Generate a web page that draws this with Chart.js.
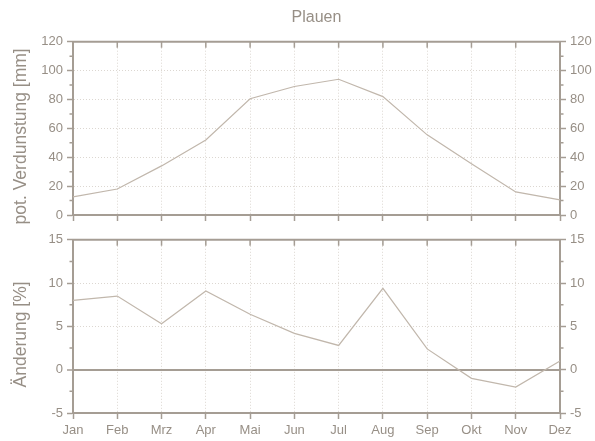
<!DOCTYPE html>
<html>
<head>
<meta charset="utf-8">
<script src="https://cdn.jsdelivr.net/npm/chart.js@4"></script>
<style>
  body { margin: 0; background: #fff; }
  canvas { display: block; }
</style>
</head>
<body>
<canvas id="topChart" width="595" height="228"></canvas>
<canvas id="bottomChart" width="595" height="213"></canvas>
<script>
// Data
const months = ["Jan", "Feb", "Mrz", "Apr", "Mai", "Jun", "Jul", "Aug", "Sep", "Okt", "Nov", "Dez"];
const evaporation = [12.5, 18, 34, 52, 80.5, 89, 94, 82, 55.5, 35.5, 16, 10.5];
const change = [8.0, 8.5, 5.3, 9.1, 6.4, 4.2, 2.8, 9.4, 2.4, -1.0, -2.0, 1.0];

const evapTicks = [0, 20, 40, 60, 80, 100, 120];
const evapMinor = [10, 30, 50, 70, 90, 110];
const changeTicks = [-5, 0, 5, 10, 15];
const changeMinor = [-2.5, 2.5, 7.5, 12.5];

// Colours
const AXIS = "#a59d94";
const TEXT = "#978f86";
const GRID = "#dcd7d1";
const LINE = "#c1b7ac";

Chart.defaults.font.family = '"Liberation Sans", Arial, sans-serif';
Chart.defaults.color = TEXT;

// top border with inward ticks, minor ticks on both y axes, y title
const frame = {
    id: "frame",
    afterDraw(chart, args, opts) {
        const { ctx, chartArea: a, scales } = chart;
        ctx.save();
        ctx.strokeStyle = AXIS;
        ctx.lineWidth = 2;
        ctx.beginPath();
        ctx.moveTo(a.left - 1, a.top);
        ctx.lineTo(a.right + 1, a.top);
        ctx.stroke();

        ctx.lineWidth = 1.5;
        ctx.beginPath();
        scales.x.ticks.forEach((t, i) => {
            const x = scales.x.getPixelForTick(i);
            ctx.moveTo(x, a.top);
            ctx.lineTo(x, a.top + 6);
        });
        opts.minor.forEach((v) => {
            const y = scales.y.getPixelForValue(v);
            ctx.moveTo(a.left - 3.5, y);
            ctx.lineTo(a.left, y);
            ctx.moveTo(a.right, y);
            ctx.lineTo(a.right + 3.5, y);
        });
        ctx.stroke();

        // axis title, sitting a little below the middle like the original
        const cy = (a.top + a.bottom) / 2 + opts.titleShift;
        ctx.translate(21.5, cy);
        ctx.rotate(-Math.PI / 2);
        ctx.fillStyle = TEXT;
        ctx.font = '17.5px "Liberation Sans", Arial, sans-serif';
        ctx.textAlign = "center";
        ctx.textBaseline = "middle";
        ctx.fillText(opts.title, 0, 0);
        ctx.restore();
    },
};

function isZero(c, zeroLine) {
    return zeroLine && c.tick && c.tick.value === 0;
}

function panelOptions(cfg) {
    return {
        responsive: false,
        animation: false,
        layout: { padding: { top: cfg.padTop, left: 0, right: 0, bottom: 0 } },
        plugins: {
            legend: { display: false },
            tooltip: { enabled: false },
            title: {
                display: !!cfg.heading,
                text: cfg.heading || "",
                color: TEXT,
                fullSize: false,
                font: { size: 16, weight: "normal" },
                padding: { top: 8, bottom: 14.5 },
            },
            frame: { minor: cfg.minor, title: cfg.title, titleShift: 8 },
        },
        scales: {
            x: {
                offset: false,
                grid: { color: GRID, tickColor: AXIS, tickLength: 6, tickWidth: 1.5 },
                border: { color: AXIS, width: 2, dash: [1, 2] },
                ticks: {
                    display: cfg.showX,
                    color: TEXT,
                    font: { size: 13 },
                    padding: 4,
                    maxRotation: 0,
                    autoSkip: false,
                },
                afterFit(s) { s.height = cfg.xHeight; },
            },
            y: {
                position: "left",
                min: cfg.ticks[0],
                max: cfg.ticks[cfg.ticks.length - 1],
                afterBuildTicks(s) { s.ticks = cfg.ticks.map((v) => ({ value: v })); },
                grid: {
                    color: (c) => (isZero(c, cfg.zeroLine) ? AXIS : GRID),
                    lineWidth: (c) => (isZero(c, cfg.zeroLine) ? 2 : 1),
                    tickColor: AXIS,
                    tickLength: 6,
                    tickWidth: 1.5,
                },
                border: {
                    color: AXIS,
                    width: 2,
                    dash: (c) => (isZero(c, cfg.zeroLine) ? [] : [1, 2]),
                },
                ticks: { color: TEXT, font: { size: 13 }, padding: 4 },
                afterFit(s) { s.width = 73; },
            },
            y2: {
                position: "right",
                min: cfg.ticks[0],
                max: cfg.ticks[cfg.ticks.length - 1],
                afterBuildTicks(s) { s.ticks = cfg.ticks.map((v) => ({ value: v })); },
                grid: { drawOnChartArea: false, tickColor: AXIS, tickLength: 6, tickWidth: 1.5 },
                border: { color: AXIS, width: 2 },
                ticks: { color: TEXT, font: { size: 13 }, padding: 4 },
                afterFit(s) { s.width = 35; },
            },
        },
    };
}

function lineData(values) {
    return {
        labels: months,
        datasets: [
            {
                data: values,
                borderColor: LINE,
                borderWidth: 1.2,
                pointRadius: 0,
                tension: 0,
                yAxisID: "y",
            },
        ],
    };
}

const topChart = new Chart(document.getElementById("topChart"), {
    type: "line",
    data: lineData(evaporation),
    options: panelOptions({
        heading: "Plauen",
        padTop: 0,
        ticks: evapTicks,
        minor: evapMinor,
        title: "pot. Verdunstung [mm]",
        showX: false,
        xHeight: 13,
        zeroLine: false,
    }),
    plugins: [frame],
});

const bottomChart = new Chart(document.getElementById("bottomChart"), {
    type: "line",
    data: lineData(change),
    options: panelOptions({
        heading: null,
        padTop: 10.5,
        ticks: changeTicks,
        minor: changeMinor,
        title: "Änderung [%]",
        showX: true,
        xHeight: 28,
        zeroLine: true,
    }),
    plugins: [frame],
});
</script>
</body>
</html>
